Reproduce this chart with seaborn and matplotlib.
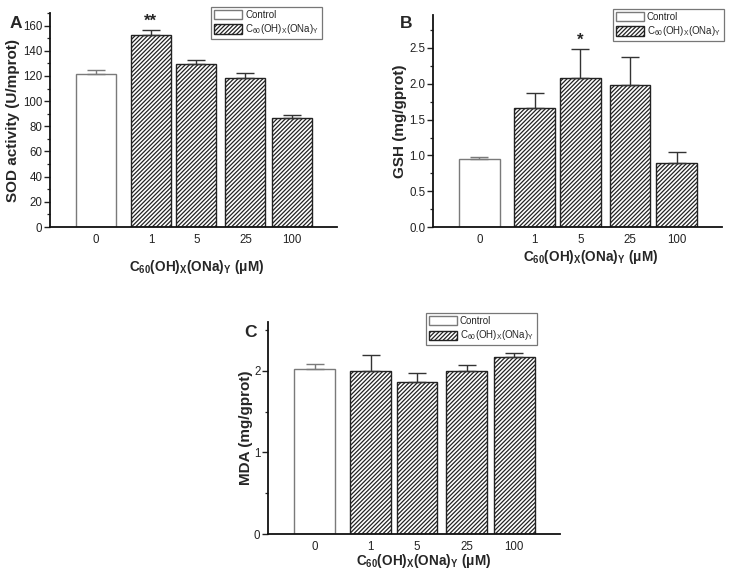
import numpy as np
import pandas as pd
import seaborn as sns
import matplotlib.pyplot as plt
from matplotlib.patches import Patch
from matplotlib.ticker import MultipleLocator, FormatStrFormatter

# doses, bar positions on the x axis (control slightly set apart)
dose_labels = ['0', '1', '5', '25', '100']
positions = [0, 1.12, 2.05, 3.05, 4.0]

# panel A - SOD activity
sod_mean = [121.5, 152.3, 129.3, 118.7, 86.8]
sod_err = [3.5, 4.0, 3.7, 3.6, 2.5]
sod_stars = ['', '**', '', '', '']

# panel B - GSH
gsh_mean = [0.95, 1.66, 2.08, 1.99, 0.90]
gsh_err = [0.025, 0.21, 0.41, 0.39, 0.15]
gsh_stars = ['', '', '*', '', '']

# panel C - MDA
mda_mean = [2.03, 2.00, 1.86, 2.00, 2.17]
mda_err = [0.06, 0.20, 0.11, 0.07, 0.05]
mda_stars = ['', '', '', '', '']

sns.set_style('ticks')
plt.rcParams['font.family'] = ['Liberation Sans', 'DejaVu Sans']
plt.rcParams['mathtext.default'] = 'regular'
plt.rcParams['hatch.linewidth'] = 0.9

xlabel = 'C$_{60}$(OH)$_X$(ONa)$_Y$ (μM)'
treat_label = 'C$_{60}$(OH)$_X$(ONa)$_Y$'
HATCH = '////////'


def draw_panel(ax, means, errs, stars, ylabel, ylim, major, minor, fmt,
               ylab_x, xlab_pos, leg_anchor):
    df = pd.DataFrame({'pos': positions, 'value': means})
    sns.barplot(data=df, x='pos', y='value', native_scale=True, width=0.88,
                color='white', edgecolor='black', linewidth=1.0,
                errorbar=None, ax=ax)
    for i, p in enumerate(ax.patches):
        p.set_facecolor('white')
        if i == 0:
            p.set_edgecolor('#7a7a7a')
        else:
            p.set_edgecolor('#222222')
            p.set_hatch(HATCH)
    lower = np.zeros(len(errs))
    ax.errorbar(positions[:1], means[:1], yerr=[lower[:1], errs[:1]], fmt='none',
                ecolor='#7a7a7a', elinewidth=1.0, capsize=6.5, capthick=1.0)
    ax.errorbar(positions[1:], means[1:], yerr=[lower[1:], errs[1:]], fmt='none',
                ecolor='#333333', elinewidth=1.0, capsize=6.5, capthick=1.0)
    for x, m, e, s in zip(positions, means, errs, stars):
        if s:
            ax.text(x, m + e + ylim[1] * 0.005, s, ha='center', va='bottom',
                    fontsize=12, fontweight='bold')

    ax.set_xlim(-0.94, 4.92)
    ax.set_ylim(*ylim)
    ax.set_xticks(positions)
    ax.set_xticklabels(dose_labels)
    ax.tick_params(axis='x', length=0, pad=5, labelsize=8.3, colors='#222222')
    ax.yaxis.set_major_locator(MultipleLocator(major))
    ax.yaxis.set_minor_locator(MultipleLocator(minor))
    ax.yaxis.set_major_formatter(FormatStrFormatter(fmt))
    ax.tick_params(axis='y', which='major', length=4, width=1.0, pad=1.5,
                   labelsize=8.3, direction='out', colors='#222222')
    ax.tick_params(axis='y', which='minor', length=2.2, width=0.9, direction='out')
    sns.despine(ax=ax)
    for sp in ['left', 'bottom']:
        ax.spines[sp].set_linewidth(1.3)
        ax.spines[sp].set_color('#111111')

    ax.set_ylabel(ylabel, fontsize=11, fontweight='bold')
    ax.yaxis.set_label_coords(ylab_x, 0.5)
    ax.set_xlabel('')
    ax.text(xlab_pos[0], xlab_pos[1], xlabel, transform=ax.transAxes,
            ha='center', va='top', fontsize=9.8, fontweight='bold')

    handles = [Patch(facecolor='white', edgecolor='#7a7a7a', label='Control'),
               Patch(facecolor='white', edgecolor='#222222', hatch=HATCH,
                     label=treat_label)]
    leg = ax.legend(handles=handles, loc='upper right', bbox_to_anchor=leg_anchor,
                    fontsize=7, frameon=True, fancybox=False, handlelength=2.9,
                    handleheight=1.1, handletextpad=0.3, borderpad=0.3,
                    labelspacing=0.25, borderaxespad=0)
    leg.get_frame().set_edgecolor('#555555')
    leg.get_frame().set_linewidth(0.9)


fig = plt.figure(figsize=(7.31, 5.79), dpi=100)
ax_a = fig.add_axes([0.0684, 0.6079, 0.3926, 0.3696])
ax_b = fig.add_axes([0.5923, 0.6079, 0.3953, 0.3661])
ax_c = fig.add_axes([0.3666, 0.0777, 0.3995, 0.3661])

draw_panel(ax_a, sod_mean, sod_err, sod_stars, 'SOD activity (U/mprot)',
           (0, 170), 20, 10, '%d', -0.105, (0.511, -0.145), (0.948, 1.028))
draw_panel(ax_b, gsh_mean, gsh_err, gsh_stars, 'GSH (mg/gprot)',
           (0, 2.96), 0.5, 0.25, '%.1f', -0.09, (0.545, -0.099), (1.007, 1.028))
draw_panel(ax_c, mda_mean, mda_err, mda_stars, 'MDA (mg/gprot)',
           (0, 2.6), 1, 0.5, '%d', -0.051, (0.532, -0.085), (0.921, 1.042))

fig.text(0.0219, 0.960, 'A', fontsize=12.5, fontweight='bold', ha='center', va='center')
fig.text(0.5554, 0.960, 'B', fontsize=12.5, fontweight='bold', ha='center', va='center')
fig.text(0.343, 0.425, 'C', fontsize=12.5, fontweight='bold', ha='center', va='center')

fig.savefig('out.png', dpi=100)
